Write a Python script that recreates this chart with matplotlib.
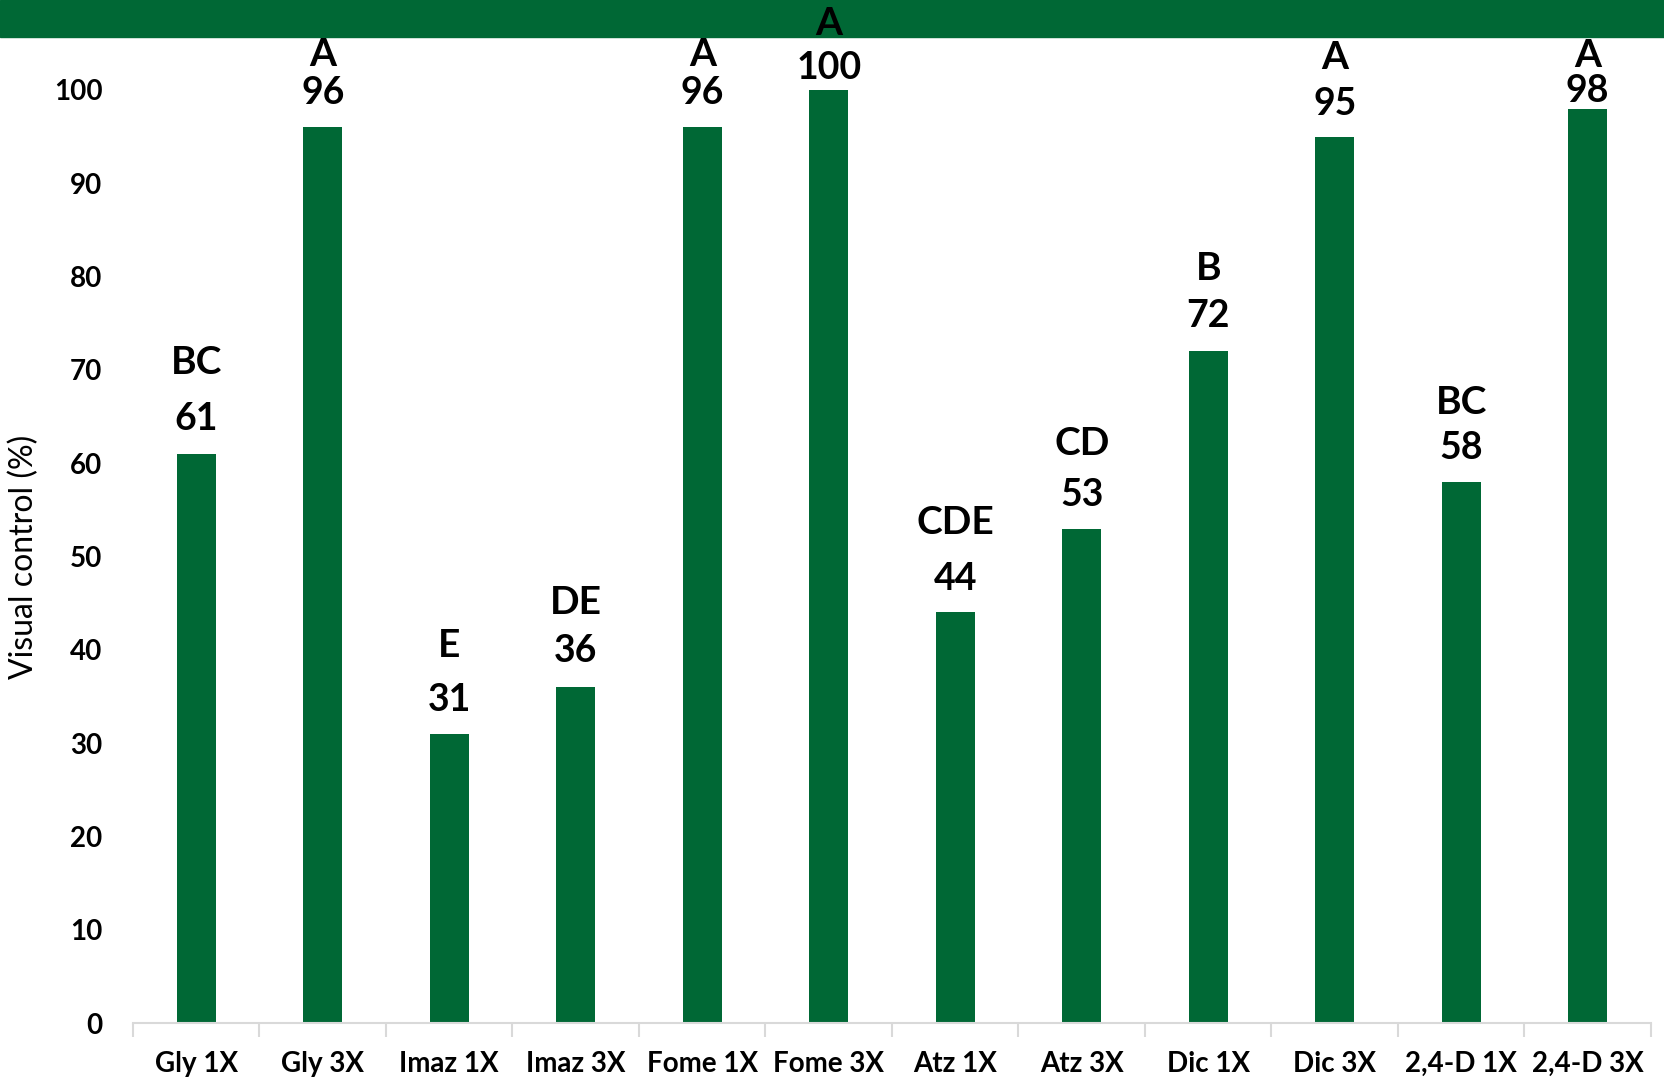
import numpy as np
import matplotlib.pyplot as plt
from matplotlib.patches import Rectangle

plt.rcParams['font.family'] = ['Lato', 'DejaVu Sans']

treatments = ["Gly 1X", "Gly 3X", "Imaz 1X", "Imaz 3X", "Fome 1X", "Fome 3X",
              "Atz 1X", "Atz 3X", "Dic 1X", "Dic 3X", "2,4-D 1X", "2,4-D 3X"]
control = [61, 96, 31, 36, 96, 100, 44, 53, 72, 95, 58, 98]
groups = ["BC", "A", "E", "DE", "A", "A", "CDE", "CD", "B", "A", "BC", "A"]

green = "#006835"

# label gaps in reference pixels (value above bar, letter above value)
value_gap = [33, 32, 32, 34, 32, 21, 32, 32, 33, 31, 32, 17]
letter_gap = [53, 37, 51, 46, 37, 42, 53, 48, 45, 44, 43, 33]
px2pt = 1665 / 1568 * 72 / 100

fig = plt.figure(figsize=(16.65, 10.82), dpi=100)
fig.patches.append(Rectangle((0, 1 - 37 / 1082), 1, 37 / 1082, transform=fig.transFigure,
                             color=green, zorder=-1))
ax = fig.add_axes([133 / 1665, 1 - 1023 / 1082, 1518 / 1665, 933 / 1082])
ax.patch.set_visible(False)

x = np.arange(len(treatments))
ax.bar(x, control, width=0.31, color=green)

for i, v in enumerate(control):
    ax.annotate(str(v), (x[i], v), xytext=(0, value_gap[i] * px2pt), textcoords="offset points",
                ha="center", va="center", fontsize=27, fontweight="bold")
    ax.annotate(groups[i], (x[i], v), xytext=(0, (value_gap[i] + letter_gap[i]) * px2pt),
                textcoords="offset points", ha="center", va="center", fontsize=28, fontweight="bold")

ax.set_xlim(-0.5, len(treatments) - 0.5)
ax.set_ylim(0, 100)
ax.set_yticks(range(0, 101, 10))
ax.set_xticks(x)
ax.set_xticklabels(treatments, fontsize=20, fontweight="bold")
ax.set_xticks(np.arange(-0.5, len(treatments), 1), minor=True)
ax.tick_params(axis="x", which="major", length=0, pad=20)
ax.tick_params(axis="x", which="minor", length=10, color="#d9d9d9", width=1.5)
ax.tick_params(axis="y", length=0, pad=22)
for lab in ax.get_yticklabels():
    lab.set_fontsize(20)
    lab.set_fontweight("bold")

for s in ["top", "right", "left"]:
    ax.spines[s].set_visible(False)
ax.spines["bottom"].set_color("#d9d9d9")
ax.spines["bottom"].set_linewidth(1.5)

ax.set_ylabel("Visual control (%)", fontsize=23)
ax.yaxis.set_label_coords(-0.062, 0.5)

fig.savefig("out.png", dpi=100)
